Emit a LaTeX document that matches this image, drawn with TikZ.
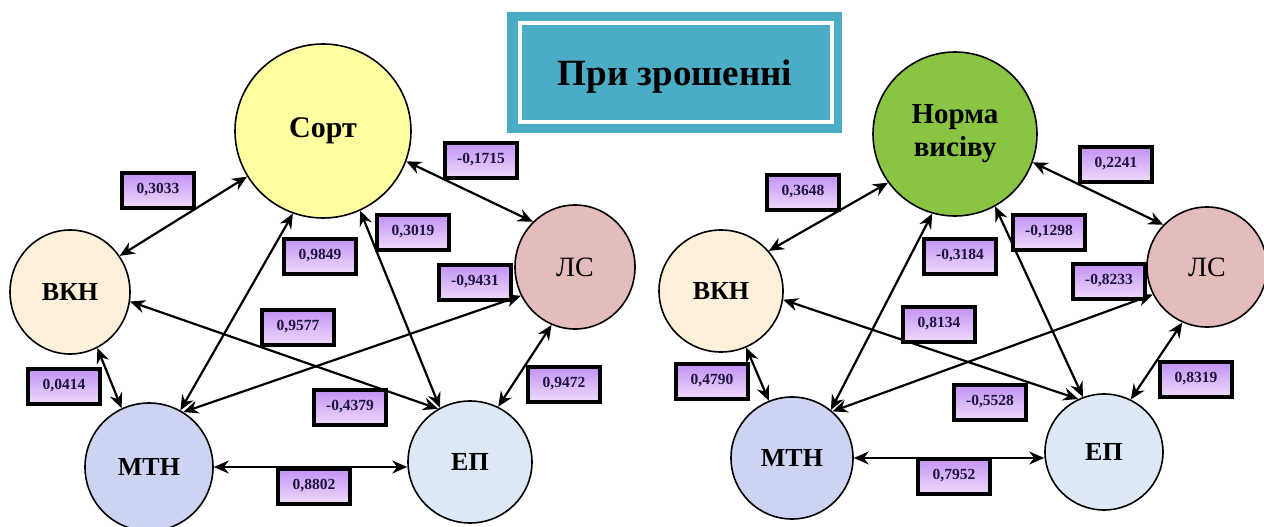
\documentclass[tikz,border=0pt]{standalone}
\usepackage{fontspec}
\setmainfont{Liberation Serif}
\usetikzlibrary{arrows.meta,shapes.geometric}
\definecolor{tealbox}{RGB}{75,172,198}
\definecolor{sortY}{RGB}{254,253,160}
\definecolor{normG}{RGB}{137,197,66}
\definecolor{vknC}{RGB}{252,240,218}
\definecolor{lsC}{RGB}{228,188,188}
\definecolor{mtnC}{RGB}{204,212,242}
\definecolor{epC}{RGB}{220,232,246}
\definecolor{labtop}{RGB}{192,145,245}
\definecolor{labbot}{RGB}{240,218,250}
\definecolor{labtext}{RGB}{30,20,60}
\begin{document}
\begin{tikzpicture}[x=1pt,y=-1pt,
  circ/.style={ellipse, draw=black, line width=1.6pt, inner sep=0pt,
    font=\bfseries\fontsize{26}{30}\selectfont},
  bigcirc/.style={circ, font=\bfseries\fontsize{30}{33}\selectfont, align=center},
  lab/.style={draw=black, line width=4pt, top color=labtop, bottom color=labbot,
    minimum width=72pt, minimum height=35pt, inner sep=0pt, text=labtext,
    font=\bfseries\fontsize{15.5}{17}\selectfont},
  con/.style={{Stealth[length=15pt,width=13pt,inset=5pt]}-{Stealth[length=15pt,width=13pt,inset=5pt]},
    line width=2.2pt}
]
\useasboundingbox (0,0) rectangle (1264,527);

% title
\fill[tealbox] (507,12) rectangle (842,133);
\draw[white, line width=4pt] (519.5,23) rectangle (831.5,121.5);
\node[anchor=base, font=\bfseries\fontsize{37}{40}\selectfont] (title) at (675,85) {При зрошенні};

% left diagram nodes
\node[bigcirc, fill=sortY, minimum width=176pt, minimum height=174pt] (sortL) at (323,131) {Сорт};
\node[circ, fill=vknC, minimum width=120pt, minimum height=124pt] (vknL) at (70,292) {ВКН};
\node[circ, fill=lsC, minimum width=120pt, minimum height=124pt, font=\fontsize{28}{30}\selectfont] (lsL) at (575,267) {ЛС};
\node[circ, fill=mtnC, minimum width=128pt, minimum height=128pt] (mtnL) at (149,467) {МТН};
\node[circ, fill=epC, minimum width=124pt, minimum height=122pt] (epL) at (470,462) {ЕП};

% right diagram nodes
\node[bigcirc, fill=normG, minimum width=164pt, minimum height=164pt, font=\bfseries\fontsize{29}{33}\selectfont] (normR) at (955,134) {Норма\\висіву};
\node[circ, fill=vknC, minimum width=124pt, minimum height=122pt] (vknR) at (721,291) {ВКН};
\node[circ, fill=lsC, minimum width=120pt, minimum height=120pt, font=\fontsize{28}{30}\selectfont] (lsR) at (1207,267) {ЛС};
\node[circ, fill=mtnC, minimum width=122pt, minimum height=122pt] (mtnR) at (792,458) {МТН};
\node[circ, fill=epC, minimum width=118pt, minimum height=116pt] (epR) at (1104,452) {ЕП};

% left connectors
\draw[con] (sortL.211) -- (vknL.36);
\draw[con] (sortL.-20) -- (lsL.133);
\draw[con] (sortL.250) -- (mtnL.61);
\draw[con] (sortL.295) -- (epL.119);
\draw[con] (vknL.-9) -- (epL.121);
\draw[con] (lsL.208) -- (mtnL.58);
\draw[con] (vknL.-64) -- (mtnL.115);
\draw[con] (lsL.248) -- (epL.63);
\draw[con] (mtnL.east) -- (mtnL.east -| epL.west);

% right connectors
\draw[con] (normR.216) -- (vknR.40);
\draw[con] (normR.-20) -- (lsR.136);
\draw[con] (normR.254) -- (mtnR.51);
\draw[con] (normR.-61) -- (epR.111);
\draw[con] (vknR.-8) -- (epR.116);
\draw[con] (lsR.207) -- (mtnR.49);
\draw[con] (vknR.-66) -- (mtnR.112);
\draw[con] (lsR.246) -- (epR.63);
\draw[con] (mtnR.east) -- (mtnR.east -| epR.west);

% left labels
\node[lab] (l1) at (158,190) {0,3033};
\node[lab] (l2) at (481,160) {-0,1715};
\node[lab] (l3) at (320,256) {0,9849};
\node[lab] (l4) at (413,232) {0,3019};
\node[lab] (l5) at (475,282) {-0,9431};
\node[lab] (l6) at (298,327) {0,9577};
\node[lab] (l7) at (64,386) {0,0414};
\node[lab] (l8) at (564,384) {0,9472};
\node[lab] (l9) at (350,407) {-0,4379};
\node[lab] (l10) at (314,486) {0,8802};

% right labels
\node[lab] (r1) at (803,192) {0,3648};
\node[lab] (r2) at (1116,164) {0,2241};
\node[lab] (r3) at (960,256) {-0,3184};
\node[lab] (r4) at (1049,232) {-0,1298};
\node[lab] (r5) at (1109,281) {-0,8233};
\node[lab] (r6) at (939,324) {0,8134};
\node[lab] (r7) at (712,381) {0,4790};
\node[lab] (r8) at (1196,379) {0,8319};
\node[lab] (r9) at (990,402) {-0,5528};
\node[lab] (r10) at (954,476) {0,7952};
\end{tikzpicture}
\end{document}
